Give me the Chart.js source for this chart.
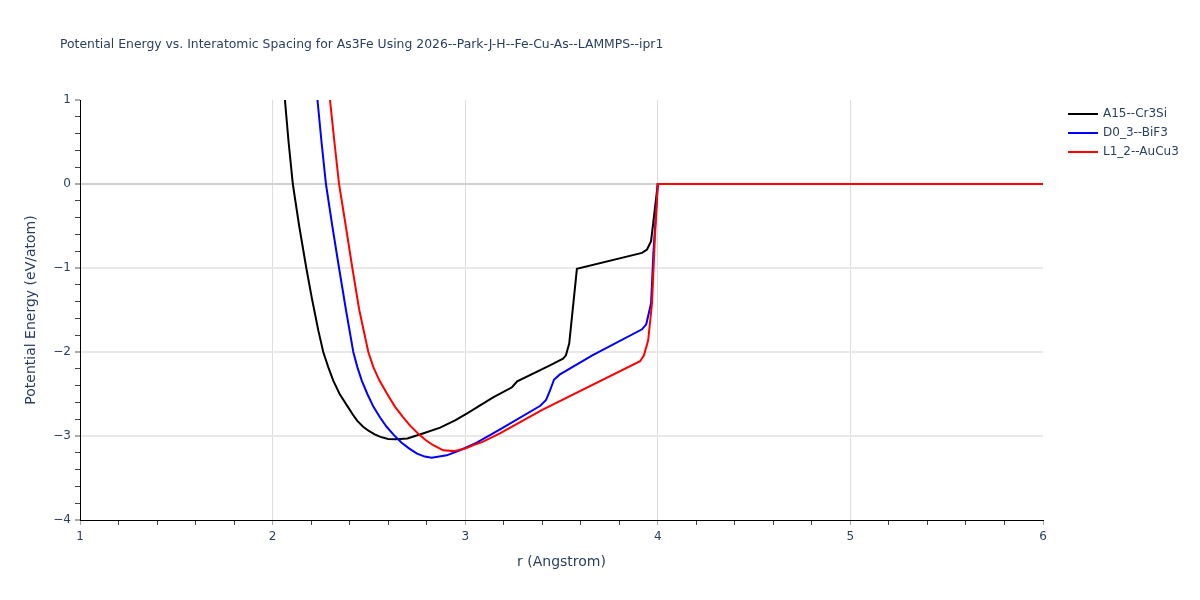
<!DOCTYPE html>
<html>
<head>
<meta charset="utf-8">
<script src="https://cdn.jsdelivr.net/npm/chart.js@4/dist/chart.umd.min.js"></script>
<style>
  body { margin: 0; background: #fff; }
  #wrap { width: 1200px; height: 600px; position: relative; }
</style>
</head>
<body>
<div id="wrap"><canvas id="myChart"></canvas></div>
<script>
// values
const titleText = "Potential Energy vs. Interatomic Spacing for As3Fe Using 2026--Park-J-H--Fe-Cu-As--LAMMPS--ipr1";
const seriesNames = ["A15--Cr3Si", "D0_3--BiF3", "L1_2--AuCu3"];
const seriesColors = ["#000000", "#0000ff", "#ff0000"];

const rA15 = [2.03, 2.064, 2.083, 2.105, 2.138, 2.175, 2.203, 2.220, 2.237, 2.263, 2.289, 2.315, 2.348, 2.39, 2.418, 2.44, 2.47, 2.50, 2.53, 2.56, 2.60, 2.64, 2.70, 2.78, 2.87, 2.95, 3.01, 3.145, 3.243, 3.27, 3.44, 3.508, 3.523, 3.54, 3.58, 3.918, 3.944, 3.965, 4.0, 6.0];
const eA15 = [2.0, 1.0, 0.5, 0.0, -0.5, -1.0, -1.35, -1.545, -1.74, -2.0, -2.18, -2.34, -2.5, -2.65, -2.75, -2.82, -2.89, -2.94, -2.98, -3.01, -3.035, -3.04, -3.03, -2.97, -2.90, -2.81, -2.73, -2.54, -2.42, -2.35, -2.16, -2.08, -2.04, -1.90, -1.01, -0.82, -0.78, -0.68, 0.0, 0.0];

const rD03 = [2.20, 2.233, 2.254, 2.277, 2.31, 2.345, 2.381, 2.419, 2.44, 2.463, 2.492, 2.523, 2.558, 2.592, 2.63, 2.67, 2.71, 2.75, 2.79, 2.826, 2.904, 2.973, 3.06, 3.181, 3.39, 3.42, 3.44, 3.461, 3.49, 3.66, 3.918, 3.94, 3.965, 3.977, 4.0, 6.0];
const eD03 = [2.0, 1.0, 0.5, 0.0, -0.5, -1.0, -1.5, -2.0, -2.18, -2.34, -2.5, -2.65, -2.78, -2.89, -2.99, -3.08, -3.15, -3.21, -3.245, -3.26, -3.23, -3.17, -3.08, -2.92, -2.64, -2.57, -2.46, -2.33, -2.27, -2.04, -1.73, -1.67, -1.42, -0.83, 0.0, 0.0];

const rL12 = [2.27, 2.298, 2.321, 2.345, 2.38, 2.414, 2.45, 2.497, 2.523, 2.555, 2.595, 2.635, 2.675, 2.715, 2.755, 2.796, 2.834, 2.886, 2.94, 3.0, 3.04, 3.09, 3.18, 3.29, 3.40, 3.908, 3.928, 3.95, 3.97, 3.985, 4.0, 6.0];
const eL12 = [2.0, 1.0, 0.5, 0.0, -0.5, -1.0, -1.5, -2.0, -2.18, -2.34, -2.5, -2.65, -2.77, -2.88, -2.97, -3.05, -3.11, -3.17, -3.18, -3.15, -3.11, -3.07, -2.97, -2.83, -2.69, -2.11, -2.04, -1.86, -1.42, -0.63, 0.0, 0.0];

const xTicksMin = 1, xTicksMax = 6, yTicksMin = -4, yTicksMax = 1;

function toPoints(xs, ys) {
  return xs.map((x, i) => ({ x: x, y: ys[i] }));
}

function isMajor(v) {
  return Math.abs(v - Math.round(v)) < 1e-6;
}

const textColor = "#2a3f5f";
const fontFamily = "'DejaVu Sans', Verdana, sans-serif";

// title + legend drawn by hand, plotly style
const extras = {
  id: "extras",
  afterDraw(chart) {
    const ctx = chart.ctx;
    ctx.save();
    ctx.fillStyle = textColor;
    ctx.font = "12.4px " + fontFamily;
    ctx.textBaseline = "middle";
    ctx.textAlign = "left";
    ctx.fillText(titleText, 60, 45);

    const rows = [114, 133, 152];
    chart.data.datasets.forEach((ds, i) => {
      ctx.strokeStyle = ds.borderColor;
      ctx.lineWidth = 2;
      ctx.beginPath();
      ctx.moveTo(1068, rows[i]);
      ctx.lineTo(1098, rows[i]);
      ctx.stroke();
      ctx.font = "12px " + fontFamily;
      ctx.fillStyle = textColor;
      ctx.fillText(ds.label, 1103, rows[i]);
    });
    ctx.restore();
  },
};

const datasets = [
  { label: seriesNames[0], data: toPoints(rA15, eA15), borderColor: seriesColors[0], order: 3 },
  { label: seriesNames[1], data: toPoints(rD03, eD03), borderColor: seriesColors[1], order: 2 },
  { label: seriesNames[2], data: toPoints(rL12, eL12), borderColor: seriesColors[2], order: 1 },
].map((d) => Object.assign(d, {
  borderWidth: 2,
  pointRadius: 0,
  fill: false,
  tension: 0,
}));

new Chart(document.getElementById("myChart"), {
  type: "line",
  data: { datasets: datasets },
  plugins: [extras],
  options: {
    responsive: true,
    maintainAspectRatio: false,
    animation: false,
    layout: { padding: { top: 100, right: 157, left: 0, bottom: 0 } },
    plugins: {
      legend: { display: false },
      tooltip: { enabled: false },
    },
    scales: {
      x: {
        type: "linear",
        min: xTicksMin,
        max: xTicksMax,
        afterFit(scale) { scale.height = 80; },
        border: { display: true, color: "#000", width: 1 },
        grid: {
          drawTicks: true,
          tickLength: 5,
          lineWidth: 1,
          color: (c) => (isMajor(c.tick.value) && c.tick.value > xTicksMin && c.tick.value < xTicksMax ? "#dddddd" : "rgba(0,0,0,0)"),
          tickColor: (c) => (isMajor(c.tick.value) ? "#aaaaaa" : "#444444"),
        },
        ticks: {
          stepSize: 0.2,
          autoSkip: false,
          maxRotation: 0,
          padding: 5,
          color: textColor,
          font: { family: fontFamily, size: 12 },
          callback: (v) => (isMajor(v) ? String(Math.round(v)) : ""),
        },
        title: {
          display: true,
          text: "r (Angstrom)",
          color: textColor,
          font: { family: fontFamily, size: 14 },
          padding: { top: 0, bottom: 29 },
        },
      },
      y: {
        type: "linear",
        min: yTicksMin,
        max: yTicksMax,
        afterFit(scale) { scale.width = 80; },
        border: { display: true, color: "#000", width: 1 },
        grid: {
          drawTicks: true,
          tickLength: 5,
          lineWidth: (c) => (isMajor(c.tick.value) ? 2 : 1),
          color: (c) => {
            const v = c.tick.value;
            if (!isMajor(v) || v <= yTicksMin || v >= yTicksMax) return "rgba(0,0,0,0)";
            return Math.round(v) === 0 ? "#d0d0d0" : "#e8e8e8";
          },
          tickColor: (c) => (isMajor(c.tick.value) ? "#aaaaaa" : "#444444"),
        },
        ticks: {
          stepSize: 0.2,
          autoSkip: false,
          padding: 4,
          color: textColor,
          font: { family: fontFamily, size: 12 },
          callback: (v) => (isMajor(v) ? String(Math.round(v)).replace("-", "\u2212") : ""),
        },
        title: {
          display: true,
          text: "Potential Energy (eV/atom)",
          color: textColor,
          font: { family: fontFamily, size: 14 },
          padding: { top: 23, bottom: 0 },
        },
      },
    },
  },
});
</script>
</body>
</html>
